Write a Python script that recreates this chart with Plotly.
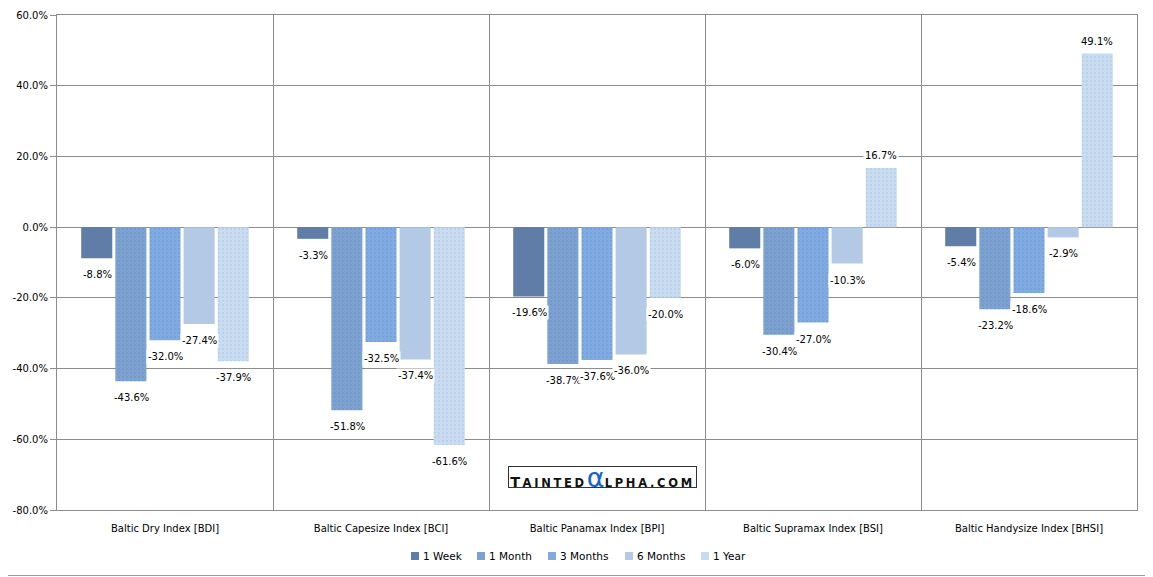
import plotly.graph_objects as go

categories = ["Baltic Dry Index [BDI]", "Baltic Capesize Index [BCI]", "Baltic Panamax Index [BPI]",
              "Baltic Supramax Index [BSI]", "Baltic Handysize Index [BHSI]"]
series_names = ["1 Week", "1 Month", "3 Months", "6 Months", "1 Year"]
week = [-8.8, -3.3, -19.6, -6.0, -5.4]
month = [-43.6, -51.8, -38.7, -30.4, -23.2]
months3 = [-32.0, -32.5, -37.6, -27.0, -18.6]
months6 = [-27.4, -37.4, -36.0, -10.3, -2.9]
year1 = [-37.9, -61.6, -20.0, 16.7, 49.1]
y_ticks = [-80, -60, -40, -20, 0, 20, 40, 60]

series_values = [week, month, months3, months6, year1]
colors = ["#5f7da6", "#7ea2cf", "#81abe0", "#b4c9e6", "#c9dbee"]
dots = [None, "#7096cb", "#72a0dc", None, "#b5cdea"]

FONT = "DejaVu Sans"
# page geometry (browser body has an 8px margin)
W, H = 1145, 569
ML, MR, MT, MB = 49, 16, 7, 67
PW, PH = W - ML - MR, H - MT - MB


def px(x):  # figure-pixel x -> paper
    return (x - ML) / PW


def py(y):  # figure-pixel y -> paper
    return (H - MB - y) / PH


fig = go.Figure()
for name, vals, c, d in zip(series_names, series_values, colors, dots):
    marker = dict(color=c, line=dict(width=0))
    if d:
        marker["pattern"] = dict(shape=".", fgcolor=d, bgcolor=c, size=4, solidity=0.18, fillmode="replace")
    fig.add_trace(go.Bar(x=categories, y=vals, name=name, marker=marker, showlegend=False))

slot = 34
offsets = [-2, -1, 0, 1, 2]
for k, vals in enumerate(series_values):
    for cat, v in zip(categories, vals):
        neg = v < 0
        fig.add_annotation(x=cat, y=v, text=f"{v:.1f}%", showarrow=False,
                           xshift=offsets[k] * slot, yshift=-9 if neg else 5,
                           yanchor="top" if neg else "bottom",
                           bgcolor="white", borderpad=1,
                           font=dict(family=FONT, size=10, color="black"))

# watermark
wm = ("<b><span style='font-size:14.5px;letter-spacing:2.5px'>T</span>"
      "<span style='font-size:11.5px;letter-spacing:2.7px'>AINTED</span></b>"
      "<span style='font-size:27px;color:#1560d8'>α</span>"
      "<b><span style='font-size:11.5px;letter-spacing:2.7px'>LPHA.COM</span></b>")
fig.add_annotation(xref="paper", yref="paper", x=px(594), y=py(469), text=wm, showarrow=False,
                   bordercolor="#333", borderwidth=1, bgcolor="white", borderpad=0,
                   width=187, height=20, xanchor="center", yanchor="middle", valign="middle",
                   font=dict(family="DejaVu Sans", size=13, color="#111"))

# legend (drawn manually to match compact swatch spacing)
legend_x = [403, 469, 540, 617, 693]
for name, c, lx in zip(series_names, colors, legend_x):
    fig.add_shape(type="rect", xref="paper", yref="paper",
                  x0=px(lx), x1=px(lx + 8), y0=py(552), y1=py(544),
                  fillcolor=c, line=dict(width=0))
    fig.add_annotation(xref="paper", yref="paper", x=px(lx + 10), y=py(548), text=name,
                       showarrow=False, xanchor="left", yanchor="middle",
                       font=dict(family=FONT, size=10.5, color="black"))

# chart border (left/top edges fall outside the figure)
fig.add_shape(type="rect", xref="paper", yref="paper",
              x0=px(-20), x1=px(1143.5), y0=py(567.5), y1=py(-20),
              line=dict(color="#9a9a9a", width=1), layer="below")

fig.update_layout(
    width=W, height=H,
    margin=dict(l=ML, r=MR, t=MT, b=MB, autoexpand=False),
    plot_bgcolor="white", paper_bgcolor="white",
    barmode="group", bargap=0.21, bargroupgap=0.09,
    font=dict(family=FONT, size=10, color="black"),
    showlegend=False,
    xaxis=dict(tickson="boundaries", showgrid=True, gridcolor="#8c8c8c", gridwidth=1,
               showline=True, linecolor="#8c8c8c", mirror=True, ticks="", ticklen=0,
               automargin=False, ticklabelstandoff=9, tickfont=dict(family=FONT, size=10)),
    yaxis=dict(range=[-80, 60], tickvals=y_ticks, ticktext=[f"{t:.1f}%" for t in y_ticks],
               showgrid=True, gridcolor="#8c8c8c", gridwidth=1, zeroline=False,
               showline=True, linecolor="#8c8c8c", mirror=True, automargin=False,
               ticks="outside", ticklen=6, tickcolor="#8c8c8c",
               tickfont=dict(family=FONT, size=10)),
)

fig.write_html("out.html")
